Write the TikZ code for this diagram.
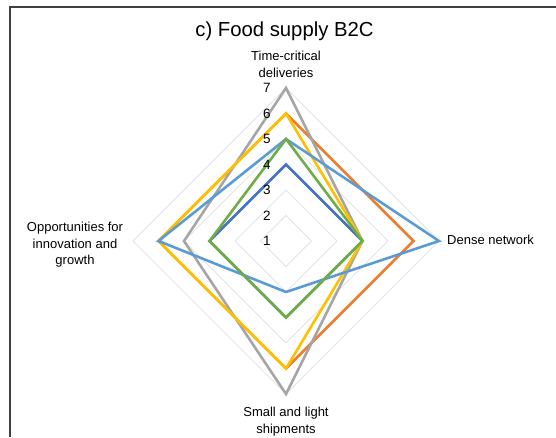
\documentclass[tikz,border=0pt]{standalone}
\usepackage{fontspec}
\setmainfont{Liberation Sans}
\definecolor{cA}{HTML}{4472C4}
\definecolor{cB}{HTML}{ED7D31}
\definecolor{cC}{HTML}{A5A5A5}
\definecolor{cD}{HTML}{FFC000}
\definecolor{cE}{HTML}{5B9BD5}
\definecolor{cF}{HTML}{70AD47}
\definecolor{gridgray}{HTML}{E3E3E3}
\definecolor{framegray}{HTML}{404040}
\tikzset{
  series/.style={line width=2.6pt},
  ring/.style={draw=gridgray, line width=0.8pt},
  axlabel/.style={font=\fontsize{13}{16.5}\selectfont, align=center, inner sep=0pt},
  tick/.style={font=\fontsize{13.5}{15}\selectfont, inner sep=0pt}
}
\begin{document}
\begin{tikzpicture}[x=1pt,y=1pt]
  \useasboundingbox (0,0) rectangle (556,437);
  \draw[framegray, line width=1.6pt] (10,0) -- (10,430) -- (556,430);
  \node[font=\fontsize{20.3}{23}\selectfont, anchor=base] (title) at (284.5,400) {c) Food supply B2C};

  \begin{scope}[shift={(286,196)}, x=25.5pt, y=25.5pt]
    \foreach \v in {2,...,7} \draw[ring] (0,\v-1) -- (\v-1,0) -- (0,1-\v) -- (1-\v,0) -- cycle;
    \foreach \c/\t/\r/\b/\l in {cA/4/4/4/4, cB/6/6/6/6, cC/7/4/7/5, cD/6/4/6/6, cE/5/7/3/6, cF/5/4/4/4}
      \draw[series, \c] (0,\t-1) -- (\r-1,0) -- (0,1-\b) -- (1-\l,0) -- cycle;
    \foreach \v in {1,...,7} \node[tick] (t\v) at (-0.75,\v-1) {\v};
  \end{scope}

  \node[axlabel] (top) at (286,372.5) {Time-critical\\deliveries};
  \node[axlabel, anchor=west] (right) at (447,197) {Dense network};
  \node[axlabel] (bottom) at (286,15.5) {Small and light\\shipments};
  \node[axlabel] (left) at (75,192) {Opportunities for\\innovation and\\growth};
\end{tikzpicture}
\end{document}
